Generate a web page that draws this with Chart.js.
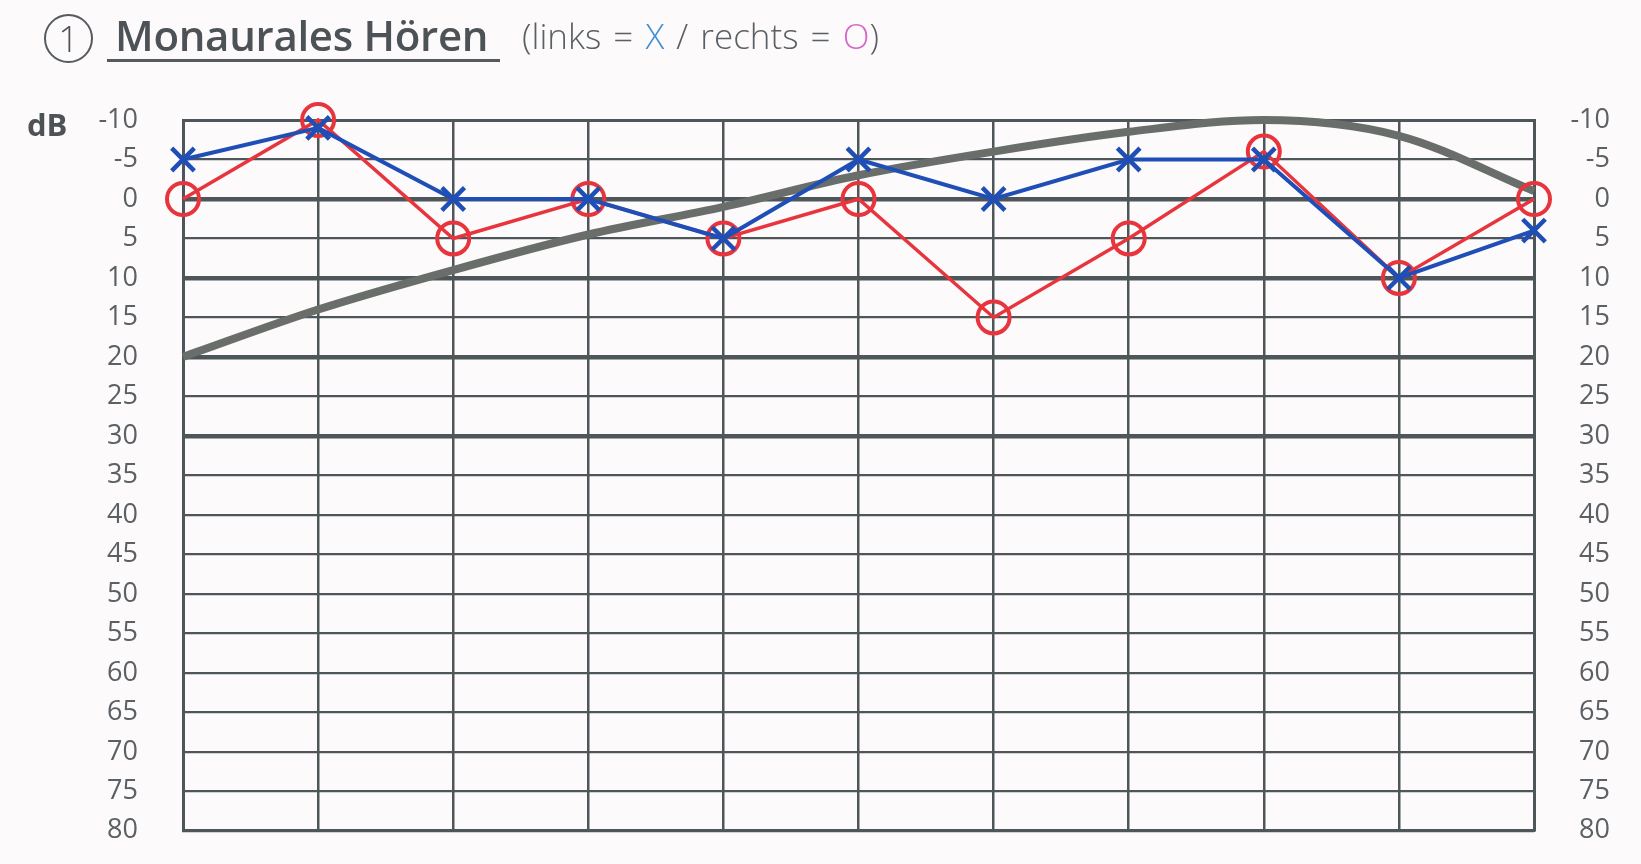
<!DOCTYPE html>
<html>
<head>
<meta charset="utf-8">
<script src="https://cdn.jsdelivr.net/npm/chart.js@4"></script>
<style>
  html, body { margin: 0; background: #fcfafb; overflow: hidden; }
  #wrap { position: relative; width: 1641px; height: 864px; overflow: hidden; font-family: "Open Sans", sans-serif; color: #4d5257; }
  #myChart { position: absolute; left: 0; top: 0; }
  .num { position: absolute; left: 44px; top: 14px; width: 45px; height: 45px; border: 2.5px solid #555a5f; border-radius: 50%;
         font-size: 36px; line-height: 45px; text-align: center; font-weight: 300; }
  .title { position: absolute; left: 115px; top: 6px; font-size: 42px; font-weight: 600; letter-spacing: -0.3px; }
  .rule { position: absolute; left: 107px; top: 59px; width: 393px; height: 3px; background: #555a5f; }
  .sub { position: absolute; left: 522px; top: 12px; font-size: 35px; font-weight: 300; color: #5a5f63; word-spacing: 3px; }
  .sub .l { color: #3f8fd4; }
  .sub .r { color: #d766c8; }
  .db { position: absolute; left: 27px; top: 103px; font-size: 31px; font-weight: 700; }
</style>
</head>
<body>
<div id="wrap">
  <canvas id="myChart" width="1641" height="892"></canvas>
  <div class="num">1</div>
  <div class="title">Monaurales Hören</div>
  <div class="rule"></div>
  <div class="sub">(links = <span class="l">X</span> / rechts = <span class="r">O</span>)</div>
  <div class="db">dB</div>
</div>
<script>
// columns of the audiogram (no labels printed under the grid)
const columns = ['0', '1', '2', '3', '4', '5', '6', '7', '8', '9', '10'];

// hearing level in dB
const leftEar = [-5, -9, 0, 0, 5, -5, 0, -5, -5, 10, 4];      // blue X
const rightEar = [0, -10, 5, 0, 5, 0, 15, 5, -6, 10, 0];      // red O
const referenceCurve = [20, 14, 9, 4.5, 1, -3, -6, -8.5, -10, -8, -1];

// scale of the chart
const dbMin = -10;
const dbMax = 80;
const dbStep = 5;
const thickLines = [0, 10, 20, 30];

const ctx = document.getElementById('myChart');
const gridColor = '#4f5659';
const tickFont = { family: 'Open Sans', size: 27 };

new Chart(ctx, {
  type: 'line',
  data: {
    labels: columns,
    datasets: [{
      label: 'links',
      data: leftEar,
      borderColor: '#1f4fb6',
      borderWidth: 4,
      pointStyle: 'crossRot',
      pointRadius: 16,
      pointBorderWidth: 4.5,
      pointBorderColor: '#1f4fb6',
      tension: 0,
      clip: false
    }, {
      label: 'rechts',
      data: rightEar,
      borderColor: '#e8353d',
      borderWidth: 3.5,
      pointStyle: 'circle',
      pointRadius: 16,
      pointBorderWidth: 4,
      pointBorderColor: '#e8353d',
      pointBackgroundColor: 'rgba(0,0,0,0)',
      tension: 0,
      clip: false
    }, {
      label: 'Referenz',
      data: referenceCurve,
      borderColor: '#6a6e6b',
      borderWidth: 8,
      pointRadius: 0,
      cubicInterpolationMode: 'monotone',
      clip: false
    }]
  },
  options: {
    responsive: false,
    animation: false,
    devicePixelRatio: 1,
    layout: { padding: { top: 120, bottom: 12, left: 0, right: 31 } },
    plugins: { legend: { display: false }, tooltip: { enabled: false } },
    scales: {
      x: {
        ticks: { display: false },
        grid: { color: gridColor, lineWidth: 2.5, drawTicks: false },
        border: { color: gridColor, width: 3 },
        afterFit: s => { s.height = 0; }
      },
      y: {
        reverse: true,
        min: dbMin,
        max: dbMax,
        ticks: { stepSize: dbStep, padding: 45, color: '#5b6065', font: tickFont },
        grid: {
          color: gridColor,
          drawTicks: false,
          lineWidth: c => thickLines.includes(c.tick.value) ? 4.5 : (c.tick.value === dbMin ? 3 : 2.2)
        },
        border: { color: gridColor, width: 3 },
        afterFit: s => { s.width = 183; }
      },
      y2: {
        position: 'right',
        reverse: true,
        min: dbMin,
        max: dbMax,
        ticks: { stepSize: dbStep, padding: 0, crossAlign: 'far', color: '#5b6065', font: tickFont },
        grid: { display: false, drawTicks: false },
        border: { color: gridColor, width: 3 },
        afterFit: s => { s.width = 76; }
      }
    }
  }
});
</script>
</body>
</html>
